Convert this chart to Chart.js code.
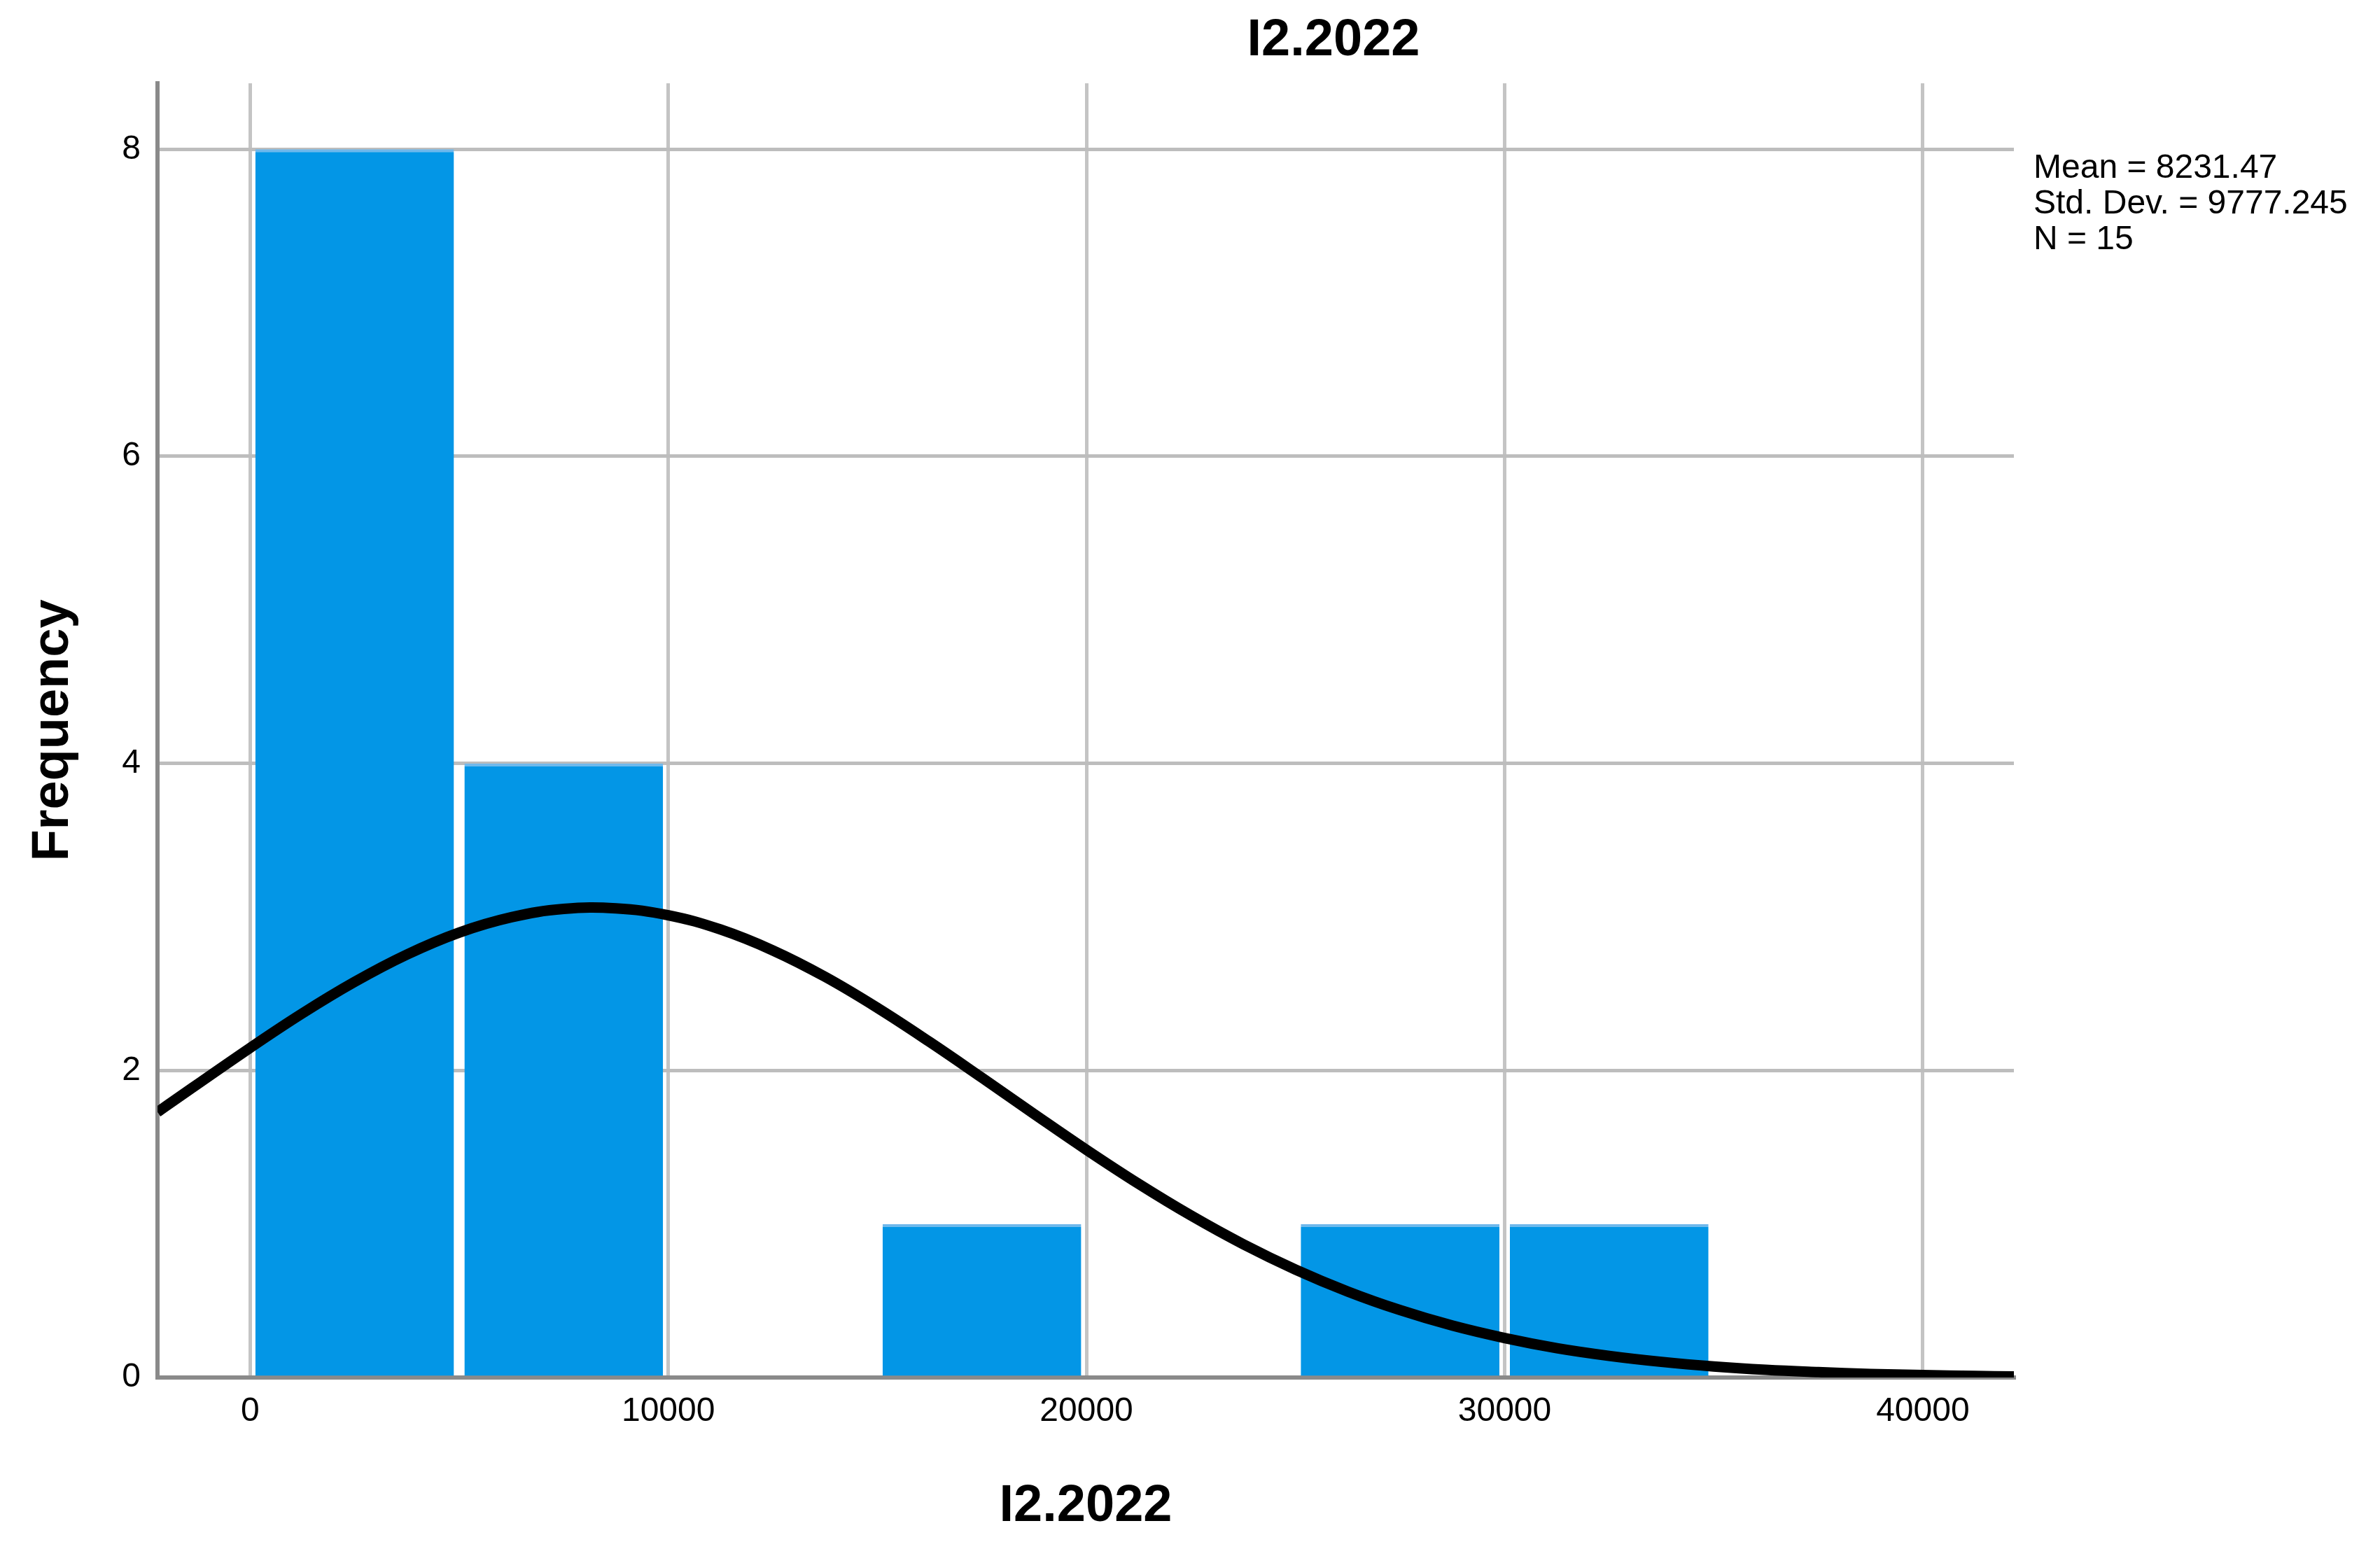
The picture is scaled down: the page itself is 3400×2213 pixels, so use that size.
<!DOCTYPE html>
<html>
<head>
<meta charset="utf-8">
<title>I2.2022</title>
<script src="https://cdn.jsdelivr.net/npm/chart.js@4/dist/chart.umd.min.js"></script>
<style>
  body { margin: 0; background: #fff; }
  #wrap { width: 3400px; height: 2213px; }
</style>
</head>
<body>
<div id="wrap"><canvas id="hist" width="3400" height="2213"></canvas></div>
<script>
// histogram bins (width 5000), centres and counts
const binCenters = [2500, 7500, 17500, 27500, 32500];
const binCounts = [8, 4, 1, 1, 1];

// normal curve
const curveX = [-2214, 0, 1250, 2500, 3750, 5000, 6250, 7500, 8750, 10000,
  11250, 12500, 13750, 15000, 16250, 17500, 18750, 20000, 21250, 22500,
  23750, 25000, 26250, 27500, 28750, 30000, 31250, 32500, 33750, 35000,
  36250, 37500, 38750, 40000, 41250, 42178];
const curveY = [1.729, 2.147, 2.372, 2.577, 2.755, 2.898, 2.998, 3.052, 3.056, 3.011,
  2.918, 2.782, 2.610, 2.408, 2.186, 1.953, 1.716, 1.483, 1.261, 1.055,
  0.868, 0.703, 0.560, 0.439, 0.338, 0.257, 0.191, 0.141, 0.102, 0.072,
  0.050, 0.035, 0.023, 0.016, 0.010, 0.007];

const xTicks = [0, 10000, 20000, 30000, 40000];
const yTicks = [0, 2, 4, 6, 8];

const chartTitle = "I2.2022";
const statsLines = ["Mean = 8231.47", "Std. Dev. = 9777.245", "N = 15"];

const FONT = "'Liberation Sans', Arial, sans-serif";
Chart.defaults.font.family = FONT;
Chart.defaults.color = "#000";

const textPlugin = {
  id: "spssText",
  afterDraw: chart => {
    const ctx = chart.ctx;
    ctx.save();
    ctx.fillStyle = "#000";
    ctx.textBaseline = "middle";
    ctx.font = "bold 74px " + FONT;
    ctx.textAlign = "center";
    ctx.fillText(chartTitle, 1905, 59);
    ctx.font = "48px " + FONT;
    ctx.textAlign = "left";
    statsLines.forEach((line, i) => {
      ctx.fillText(line, 2905, 241 + i * 51);
    });
    ctx.restore();
  }
};

const ctx = document.getElementById("hist").getContext("2d");
const hist = new Chart(ctx, {
  type: "bar",
  data: {
    datasets: [
      {
        type: "line",
        label: "Normal",
        data: curveX.map((x, i) => ({ x: x, y: curveY[i] })),
        borderColor: "#000",
        borderWidth: 15,
        pointRadius: 0,
        tension: 0.4,
        fill: false,
        order: 0
      },
      {
        label: "Frequency",
        data: binCenters.map((x, i) => ({ x: x, y: binCounts[i] })),
        backgroundColor: "#0396e6",
        borderColor: "#6fb8ec",
        borderWidth: { top: 4, left: 0, right: 0, bottom: 0 },
        borderSkipped: "bottom",
        barPercentage: 0.95,
        categoryPercentage: 1,
        order: 1
      }
    ]
  },
  options: {
    responsive: false,
    devicePixelRatio: 1,
    animation: false,
    layout: { padding: { top: 119, right: 523, left: 0, bottom: 0 } },
    plugins: {
      legend: { display: false },
      tooltip: { enabled: false },
      title: { display: false }
    },
    scales: {
      x: {
        type: "linear",
        min: -2214,
        max: 42178,
        offset: false,
        afterBuildTicks: s => { s.ticks = xTicks.map(v => ({ value: v })); },
        afterFit: s => { s.height = 245; },
        grid: { offset: false, color: "#c4c4c4", lineWidth: 5, drawTicks: false },
        border: { color: "#8a8a8a", width: 6 },
        ticks: {
          font: { size: 48, lineHeight: 1 },
          padding: 25,
          maxRotation: 0,
          autoSkip: false,
          callback: v => String(v)
        },
        title: {
          display: true,
          text: "I2.2022",
          font: { size: 74, weight: "bold", lineHeight: 1 },
          padding: { top: 0, bottom: 23 }
        }
      },
      y: {
        min: 0,
        max: 8.43,
        afterBuildTicks: s => { s.ticks = yTicks.map(v => ({ value: v })); },
        afterFit: s => { s.width = 225; },
        grid: { color: "#bdbdbd", lineWidth: 5, drawTicks: false },
        border: { color: "#8a8a8a", width: 6 },
        ticks: {
          font: { size: 48, lineHeight: 1 },
          padding: 24,
          callback: v => String(v)
        },
        title: {
          display: true,
          text: "Frequency",
          font: { size: 74, weight: "bold", lineHeight: 1 },
          padding: { top: 40, bottom: 0 }
        }
      }
    }
  },
  plugins: [textPlugin]
});
</script>
</body>
</html>
